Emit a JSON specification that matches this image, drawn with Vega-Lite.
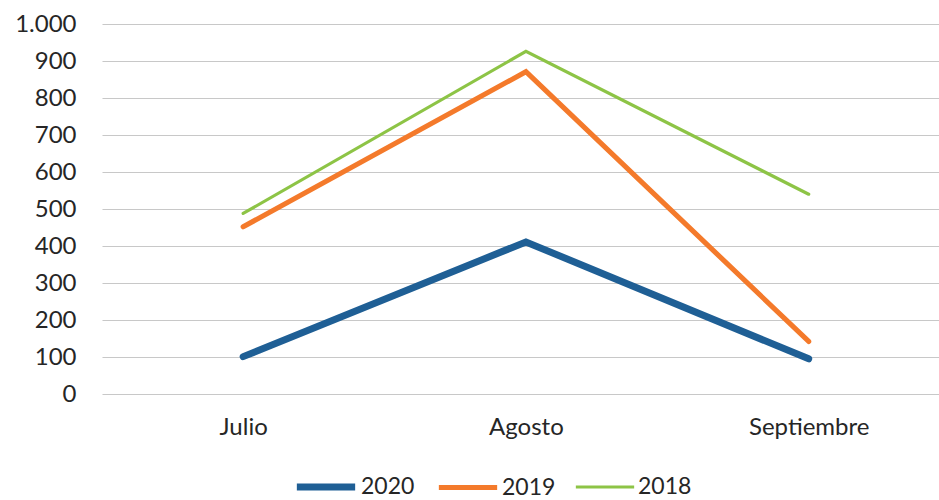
{
  "$schema": "https://vega.github.io/schema/vega-lite/v6.json",
  "width": 837,
  "height": 370,
  "autosize": "none",
  "padding": {"left": 102, "top": 24, "right": 0, "bottom": 106},
  "background": "white",
  "config": {
    "locale": {"number": {"decimal": ",", "thousands": ".", "grouping": [3], "currency": ["", " €"]}},
    "view": {"stroke": null},
    "font": "Lato"
  },
  "data": {
    "values": [
      {"mes": "Julio", "anio": "2020", "valor": 101},
      {"mes": "Agosto", "anio": "2020", "valor": 411},
      {"mes": "Septiembre", "anio": "2020", "valor": 95},
      {"mes": "Julio", "anio": "2019", "valor": 452},
      {"mes": "Agosto", "anio": "2019", "valor": 871},
      {"mes": "Septiembre", "anio": "2019", "valor": 142},
      {"mes": "Julio", "anio": "2018", "valor": 488},
      {"mes": "Agosto", "anio": "2018", "valor": 926},
      {"mes": "Septiembre", "anio": "2018", "valor": 540}
    ]
  },
  "mark": {"type": "line", "strokeCap": "round", "strokeJoin": "miter"},
  "encoding": {
    "x": {
      "field": "mes",
      "type": "nominal",
      "sort": ["Julio", "Agosto", "Septiembre"],
      "scale": {"type": "point", "padding": 0.48, "align": 0.52},
      "axis": {
        "title": null,
        "labelAngle": 0,
        "labelFontSize": 24,
        "labelColor": "#262626",
        "labelPadding": 21,
        "ticks": false,
        "domain": false,
        "grid": false
      }
    },
    "y": {
      "field": "valor",
      "type": "quantitative",
      "scale": {"domain": [0, 1000], "nice": false},
      "axis": {
        "title": null,
        "values": [0, 100, 200, 300, 400, 500, 600, 700, 800, 900, 1000],
        "format": ",d",
        "labelFontSize": 24,
        "labelColor": "#262626",
        "labelPadding": 26,
        "ticks": false,
        "domain": false,
        "grid": true,
        "gridColor": "#c8c8c8",
        "gridWidth": 1.2
      }
    },
    "color": {
      "field": "anio",
      "type": "nominal",
      "sort": ["2020", "2019", "2018"],
      "scale": {"domain": ["2020", "2019", "2018"], "range": ["#1f5f95", "#f47a2b", "#8dc446"]},
      "legend": {
        "title": null,
        "orient": "none",
        "legendX": 191,
        "legendY": 430,
        "direction": "horizontal",
        "symbolType": "stroke",
        "symbolSize": 3400,
        "labelFontSize": 23,
        "labelColor": "#262626",
        "labelOffset": 2,
        "columnPadding": 13
      }
    },
    "strokeWidth": {
      "field": "anio",
      "type": "nominal",
      "sort": ["2020", "2019", "2018"],
      "scale": {"domain": ["2020", "2019", "2018"], "range": [7, 3.2, 3.2]},
      "legend": {
        "title": null,
        "orient": "none",
        "legendX": 191,
        "legendY": 430,
        "direction": "horizontal",
        "symbolType": "stroke",
        "symbolSize": 3400,
        "labelFontSize": 23,
        "labelColor": "#262626",
        "labelOffset": 2,
        "columnPadding": 13
      }
    }
  }
}
